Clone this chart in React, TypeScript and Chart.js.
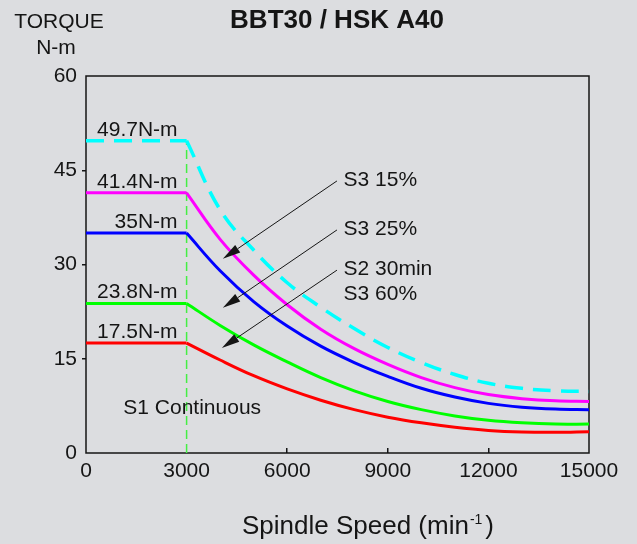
import React, { useEffect, useRef } from "react";
import { Chart, registerables } from "chart.js";

Chart.register(...registerables);

// ---------- data ----------
const speeds = [0, 3000, 4000, 5000, 6000, 7000, 8000, 9000, 10000, 11000, 12000, 13000, 14000, 15000];
const torquePeak = [49.7, 49.7, 38.7, 32.3, 27.1, 23.2, 19.8, 16.8, 14.4, 12.5, 11.1, 10.3, 9.9, 9.8];
const torqueS3_15 = [41.4, 41.4, 34.0, 28.3, 23.6, 19.7, 16.6, 14.1, 12.0, 10.4, 9.3, 8.65, 8.3, 8.2];
const torqueS3_25 = [35, 35, 29.0, 24.1, 20.2, 17.0, 14.4, 12.2, 10.3, 8.9, 7.9, 7.3, 7.0, 6.9];
const torqueS2_30 = [23.8, 23.8, 20.3, 17.2, 14.5, 12.0, 9.9, 8.2, 6.9, 5.9, 5.2, 4.8, 4.6, 4.6];
const torqueS1 = [17.5, 17.5, 14.8, 12.3, 10.2, 8.4, 6.9, 5.7, 4.8, 4.1, 3.6, 3.35, 3.3, 3.4];

const baseSpeed = 3000;
const ratedTorques = [49.7, 41.4, 35, 23.8, 17.5];

const xTickLabels = ["0", "3000", "6000", "9000", "12000", "15000"];
const yTickLabels = ["0", "15", "30", "45", "60"];

const dutyTexts = ["S3 15%", "S3 25%", "S2 30min", "S3 60%"];
const dutyTextSpeed = [7680, 7680, 7680, 7680];
const dutyTextTorque = [42.5, 34.7, 28.3, 24.35];

const arrowFromSpeed = [7484, 7484, 7484];
const arrowFromTorque = [43.3, 35.5, 29.1];
const arrowToSpeed = [4081, 4081, 4051];
const arrowToTorque = [30.9, 23.1, 16.7];

const s1Text = "S1 Continuous";
const s1Speed = 1113;
const s1Torque = 6.2;

const titleText = "BBT30 / HSK A40";
const yTitleLines = ["TORQUE", "N-m"];
const xTitleMain = "Spindle Speed (min";
const xTitleSup = "-1";
const xTitleEnd = ")";

// ---------- styles ----------
const FONT = "'Liberation Sans', Arial, Helvetica, sans-serif";
const BG = "#dcdde0";
const INK = "#151515";

const seriesStyles = [
  { values: torquePeak, color: "#00ffff", dash: [18, 10], width: 3.5 },
  { values: torqueS3_15, color: "#ff00ff", dash: [], width: 3 },
  { values: torqueS3_25, color: "#0000ff", dash: [], width: 3 },
  { values: torqueS2_30, color: "#00ff00", dash: [], width: 3 },
  { values: torqueS1, color: "#ff0000", dash: [], width: 3 },
];

function buildDatasets() {
  const ds: any[] = [];
  seriesStyles.forEach((s) => {
    const pts = speeds.map((x, i) => ({ x, y: s.values[i] }));
    ds.push({
      data: pts.slice(0, 2),
      borderColor: s.color,
      borderWidth: s.width,
      borderDash: s.dash,
      pointRadius: 0,
      tension: 0,
      fill: false,
    });
    ds.push({
      data: pts.slice(1),
      borderColor: s.color,
      borderWidth: s.width,
      borderDash: s.dash,
      pointRadius: 0,
      tension: 0.4,
      fill: false,
    });
  });
  ds.push({
    data: [
      { x: baseSpeed, y: 0 },
      { x: baseSpeed, y: torquePeak[1] },
    ],
    borderColor: "#44ee44",
    borderWidth: 1.5,
    borderDash: [9, 5],
    pointRadius: 0,
    tension: 0,
    fill: false,
  });
  return ds;
}

const overlay = {
  id: "overlay",
  beforeDatasetsDraw(chart: any) {
    const { ctx, chartArea: a } = chart;
    ctx.save();
    ctx.strokeStyle = INK;
    ctx.lineWidth = 1.5;
    ctx.strokeRect(a.left, a.top, a.right - a.left, a.bottom - a.top);
    ctx.restore();
  },
  afterDatasetsDraw(chart: any) {
    const { ctx } = chart;
    const xs = chart.scales.x;
    const ys = chart.scales.y;
    ctx.save();
    ctx.fillStyle = INK;
    ctx.strokeStyle = INK;
    ctx.font = `21px ${FONT}`;
    ctx.textBaseline = "alphabetic";

    // rated torque labels
    ctx.textAlign = "right";
    const lx = xs.getPixelForValue(baseSpeed) - 9;
    ratedTorques.forEach((v) => {
      ctx.fillText(`${v}N-m`, lx, ys.getPixelForValue(v) - 5);
    });

    // duty labels
    ctx.textAlign = "left";
    dutyTexts.forEach((t, i) => {
      ctx.fillText(t, xs.getPixelForValue(dutyTextSpeed[i]), ys.getPixelForValue(dutyTextTorque[i]));
    });
    ctx.fillText(s1Text, xs.getPixelForValue(s1Speed), ys.getPixelForValue(s1Torque));

    // arrows
    ctx.lineWidth = 1;
    arrowFromSpeed.forEach((_, i) => {
      const x1 = xs.getPixelForValue(arrowFromSpeed[i]);
      const y1 = ys.getPixelForValue(arrowFromTorque[i]);
      const x2 = xs.getPixelForValue(arrowToSpeed[i]);
      const y2 = ys.getPixelForValue(arrowToTorque[i]);
      const ang = Math.atan2(y2 - y1, x2 - x1);
      const L = 18;
      const W = 4.5;
      const bx = x2 - L * Math.cos(ang);
      const by = y2 - L * Math.sin(ang);
      ctx.beginPath();
      ctx.moveTo(x1, y1);
      ctx.lineTo(bx, by);
      ctx.stroke();
      ctx.beginPath();
      ctx.moveTo(x2, y2);
      ctx.lineTo(bx + W * Math.sin(ang), by - W * Math.cos(ang));
      ctx.lineTo(bx - W * Math.sin(ang), by + W * Math.cos(ang));
      ctx.closePath();
      ctx.fill();
    });
    ctx.restore();
  },
  afterDraw(chart: any) {
    const { ctx } = chart;
    ctx.save();
    ctx.fillStyle = INK;
    ctx.textBaseline = "alphabetic";
    // title
    ctx.textAlign = "center";
    ctx.font = `bold 26px ${FONT}`;
    ctx.fillText(titleText, 337, 28);
    // y title
    ctx.font = `21px ${FONT}`;
    ctx.fillText(yTitleLines[0], 59, 27.5);
    ctx.fillText(yTitleLines[1], 56, 54);
    // x title
    ctx.textAlign = "left";
    ctx.font = `26px ${FONT}`;
    const wMain = ctx.measureText(xTitleMain).width;
    ctx.font = `14px ${FONT}`;
    const wSup = ctx.measureText(xTitleSup).width;
    ctx.font = `26px ${FONT}`;
    const wEnd = ctx.measureText(xTitleEnd).width;
    const total = wMain + wSup + 4 + wEnd;
    let x = 368 - total / 2;
    ctx.fillText(xTitleMain, x, 534);
    x += wMain + 1;
    ctx.font = `14px ${FONT}`;
    ctx.fillText(xTitleSup, x, 524);
    x += wSup + 3;
    ctx.font = `26px ${FONT}`;
    ctx.fillText(xTitleEnd, x, 534);
    ctx.restore();
  },
};

export default function App() {
  const ref = useRef<HTMLCanvasElement | null>(null);

  useEffect(() => {
    if (!ref.current) return;
    const chart = new Chart(ref.current, {
      type: "line",
      data: { datasets: buildDatasets() },
      options: {
        animation: false,
        responsive: true,
        maintainAspectRatio: false,
        layout: { padding: { left: 0, top: 76, right: 48, bottom: 51 } },
        plugins: {
          legend: { display: false },
          tooltip: { enabled: false },
          title: { display: false },
        },
        scales: {
          x: {
            type: "linear",
            min: 0,
            max: 15000,
            border: { display: false },
            grid: {
              drawOnChartArea: false,
              drawTicks: true,
              tickLength: -5,
              lineWidth: 1.5,
              tickColor: (c: any) =>
                c.tick && (c.tick.value === 0 || c.tick.value === 3000 || c.tick.value === 15000)
                  ? "rgba(0,0,0,0)"
                  : INK,
            },
            ticks: {
              stepSize: 3000,
              padding: 11,
              color: INK,
              font: { family: FONT, size: 21 },
              maxRotation: 0,
              autoSkip: false,
              callback: (_v: any, i: number) => xTickLabels[i],
            },
            afterFit: (s: any) => {
              s.height = 40;
              s.paddingLeft = 0;
              s.paddingRight = 0;
            },
          },
          y: {
            type: "linear",
            min: 0,
            max: 60,
            border: { display: false },
            grid: {
              drawOnChartArea: false,
              drawTicks: true,
              tickLength: 4,
              lineWidth: 1.5,
              tickColor: (c: any) =>
                c.tick && (c.tick.value === 0 || c.tick.value === 60) ? "rgba(0,0,0,0)" : INK,
            },
            ticks: {
              stepSize: 15,
              padding: 5,
              color: INK,
              font: { family: FONT, size: 21 },
              callback: (_v: any, i: number) => yTickLabels[i],
            },
            afterFit: (s: any) => {
              s.width = 86;
              s.paddingTop = 0;
              s.paddingBottom = 0;
            },
          },
        },
      },
      plugins: [overlay],
    } as any);
    return () => chart.destroy();
  }, []);

  return (
    <div
      style={{
        position: "fixed",
        left: 0,
        top: 0,
        width: 637,
        height: 544,
        background: BG,
      }}
    >
      <canvas ref={ref} />
    </div>
  );
}
